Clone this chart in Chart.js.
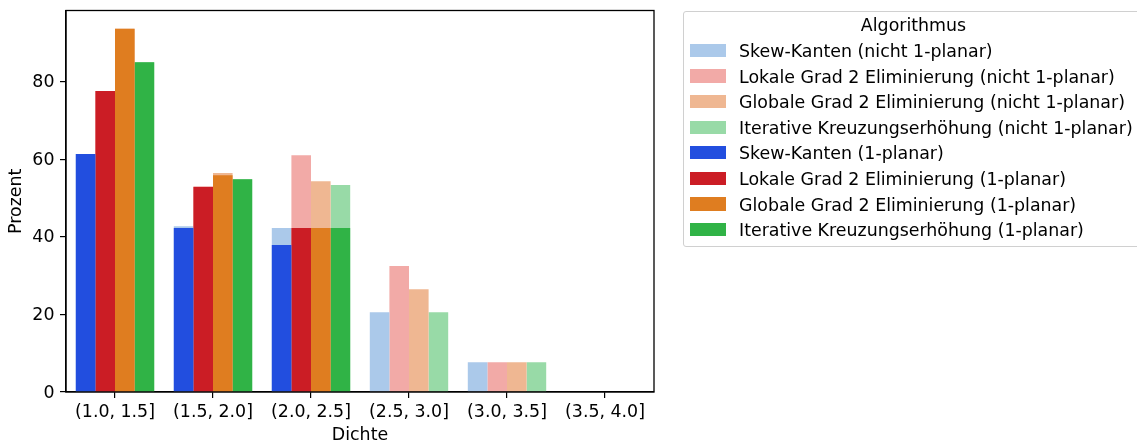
<!DOCTYPE html>
<html>
<head>
<meta charset="utf-8">
<script src="https://cdn.jsdelivr.net/npm/chart.js@4/dist/chart.umd.min.js"></script>
<style>
  html, body { margin: 0; padding: 0; background: #fff; overflow: hidden; width: 1137px; height: 443px; }
  #wrap { position: relative; width: 1137px; height: 443px; }
  #chart { position: absolute; left: 0; top: 0; }
  #legend {
    position: absolute; left: 683px; top: 10.5px; width: 461px; height: 236.5px;
    box-sizing: border-box; border: 1px solid #d0d0d0; border-radius: 3px;
    background: rgba(255,255,255,0.8);
    font-family: 'DejaVu Sans', sans-serif; font-size: 17.4px; color: #000;
  }
  #legend .title { position: absolute; left: 0; width: 100%; text-align: center; line-height: 20px; white-space: nowrap; }
  #legend .patch { position: absolute; width: 36px; height: 13.3px; }
  #legend .label { position: absolute; line-height: 20px; white-space: nowrap; }
</style>
</head>
<body>
<div id="wrap">
  <canvas id="chart" width="1137" height="443"></canvas>
  <div id="legend"></div>
</div>
<script>
// Density bins on the x axis
const CATEGORIES = ['(1.0, 1.5]', '(1.5, 2.0]', '(2.0, 2.5]', '(2.5, 3.0]', '(3.0, 3.5]', '(3.5, 4.0]'];

// Algorithms compared in every bin
const ALGORITHMS = ['Skew-Kanten', 'Lokale Grad 2 Eliminierung', 'Globale Grad 2 Eliminierung', 'Iterative Kreuzungserhöhung'];

// Percentages, nicht 1-planar (drawn underneath)
const SKEW_NICHT   = [61.4, 42.8, 42.3, 20.6, 7.7, 0];
const LOKAL_NICHT  = [77.7, 53.1, 61.1, 32.5, 7.7, 0];
const GLOBAL_NICHT = [93.75, 56.5, 54.4, 26.5, 7.7, 0];
const ITER_NICHT   = [85.1, 54.9, 53.4, 20.6, 7.7, 0];

// Percentages, 1-planar (drawn on top)
const SKEW_PLANAR   = [61.4, 42.3, 37.9, 0, 0, 0];
const LOKAL_PLANAR  = [77.7, 52.9, 42.3, 0, 0, 0];
const GLOBAL_PLANAR = [93.75, 55.9, 42.3, 0, 0, 0];
const ITER_PLANAR   = [85.1, 54.9, 42.3, 0, 0, 0];

// Value axis
const Y_TICKS = [0, 20, 40, 60, 80];
const Y_MAX = 98.44;

const PASTEL = ['#abc9ea', '#f2aaa7', '#efb792', '#98daa7'];
const BRIGHT = ['#224edf', '#cb1d25', '#df7d20', '#30b346'];

const nichtSeries = [SKEW_NICHT, LOKAL_NICHT, GLOBAL_NICHT, ITER_NICHT];
const planarSeries = [SKEW_PLANAR, LOKAL_PLANAR, GLOBAL_PLANAR, ITER_PLANAR];

const FONT = 'DejaVu Sans';
const FS = 17.4;

Chart.defaults.font.family = FONT;
Chart.defaults.font.size = FS;
Chart.defaults.color = '#000';

// Each algorithm owns one slot per bin; the 1-planar bar is laid over the
// nicht-1-planar bar in the same slot (shared "stack" id, values not summed).
const datasets = [];
nichtSeries.forEach((vals, i) => {
  datasets.push({
    label: ALGORITHMS[i] + ' (nicht 1-planar)',
    data: vals,
    backgroundColor: PASTEL[i],
    borderWidth: 0,
    stack: 'alg' + i,
    order: 1
  });
});
planarSeries.forEach((vals, i) => {
  datasets.push({
    label: ALGORITHMS[i] + ' (1-planar)',
    data: vals,
    backgroundColor: BRIGHT[i],
    borderWidth: 0,
    stack: 'alg' + i,
    order: 0
  });
});

// Frame around the plotting area (top and right spines)
const framePlugin = {
  id: 'frame',
  afterDatasetsDraw(chart) {
    const { ctx, chartArea: a } = chart;
    ctx.save();
    ctx.strokeStyle = '#000';
    ctx.lineWidth = 1.3;
    ctx.strokeRect(a.left, a.top, a.right - a.left, a.bottom - a.top);
    ctx.restore();
  }
};

new Chart(document.getElementById('chart'), {
  type: 'bar',
  data: { labels: CATEGORIES, datasets },
  options: {
    responsive: false,
    animation: false,
    devicePixelRatio: 1,
    layout: { padding: { left: 0, top: 10.5, right: 483, bottom: 0 } },
    plugins: { legend: { display: false }, tooltip: { enabled: false } },
    datasets: { bar: { categoryPercentage: 0.8, barPercentage: 1.0 } },
    scales: {
      x: {
        type: 'category',
        stacked: true,
        offset: true,
        grid: { offset: false, drawOnChartArea: false, drawTicks: true, tickLength: 6, color: '#000', lineWidth: 1.2 },
        border: { display: true, color: '#000', width: 1.3 },
        ticks: { padding: 4.5, maxRotation: 0, autoSkip: false, font: { size: FS } },
        title: { display: true, text: 'Dichte', padding: { top: 0, bottom: -2.5 }, font: { size: FS } },
        afterFit(scale) { scale.height = 51; scale.paddingLeft = 0; scale.paddingRight = 0; }
      },
      y: {
        type: 'linear',
        stacked: false,
        min: 0,
        max: Y_MAX,
        grid: { drawOnChartArea: false, drawTicks: true, tickLength: 6, color: '#000', lineWidth: 1.2 },
        border: { display: true, color: '#000', width: 1.3 },
        ticks: { padding: 5.5, labelOffset: 1, font: { size: FS }, callback: (v) => String(v) },
        afterBuildTicks(scale) { scale.ticks = Y_TICKS.map(v => ({ value: v })); },
        title: { display: true, text: 'Prozent', padding: { top: 6, bottom: 0 }, font: { size: FS } },
        afterFit(scale) { scale.width = 66; scale.paddingTop = 0; scale.paddingBottom = 0; }
      }
    }
  },
  plugins: [framePlugin]
});

// Legend box on the right
const legend = document.getElementById('legend');
const title = document.createElement('div');
title.className = 'title';
title.style.top = '3px';
title.textContent = 'Algorithmus';
legend.appendChild(title);

const legendItems = [];
ALGORITHMS.forEach((a, i) => legendItems.push({ text: a + ' (nicht 1-planar)', color: PASTEL[i] }));
ALGORITHMS.forEach((a, i) => legendItems.push({ text: a + ' (1-planar)', color: BRIGHT[i] }));

legendItems.forEach((item, i) => {
  const patch = document.createElement('div');
  patch.className = 'patch';
  patch.style.left = '6px';
  patch.style.top = (32.3 + i * 25.6) + 'px';
  patch.style.background = item.color;
  legend.appendChild(patch);

  const label = document.createElement('div');
  label.className = 'label';
  label.style.left = '55px';
  label.style.top = (29.5 + i * 25.6) + 'px';
  label.textContent = item.text;
  legend.appendChild(label);
});
</script>
</body>
</html>
